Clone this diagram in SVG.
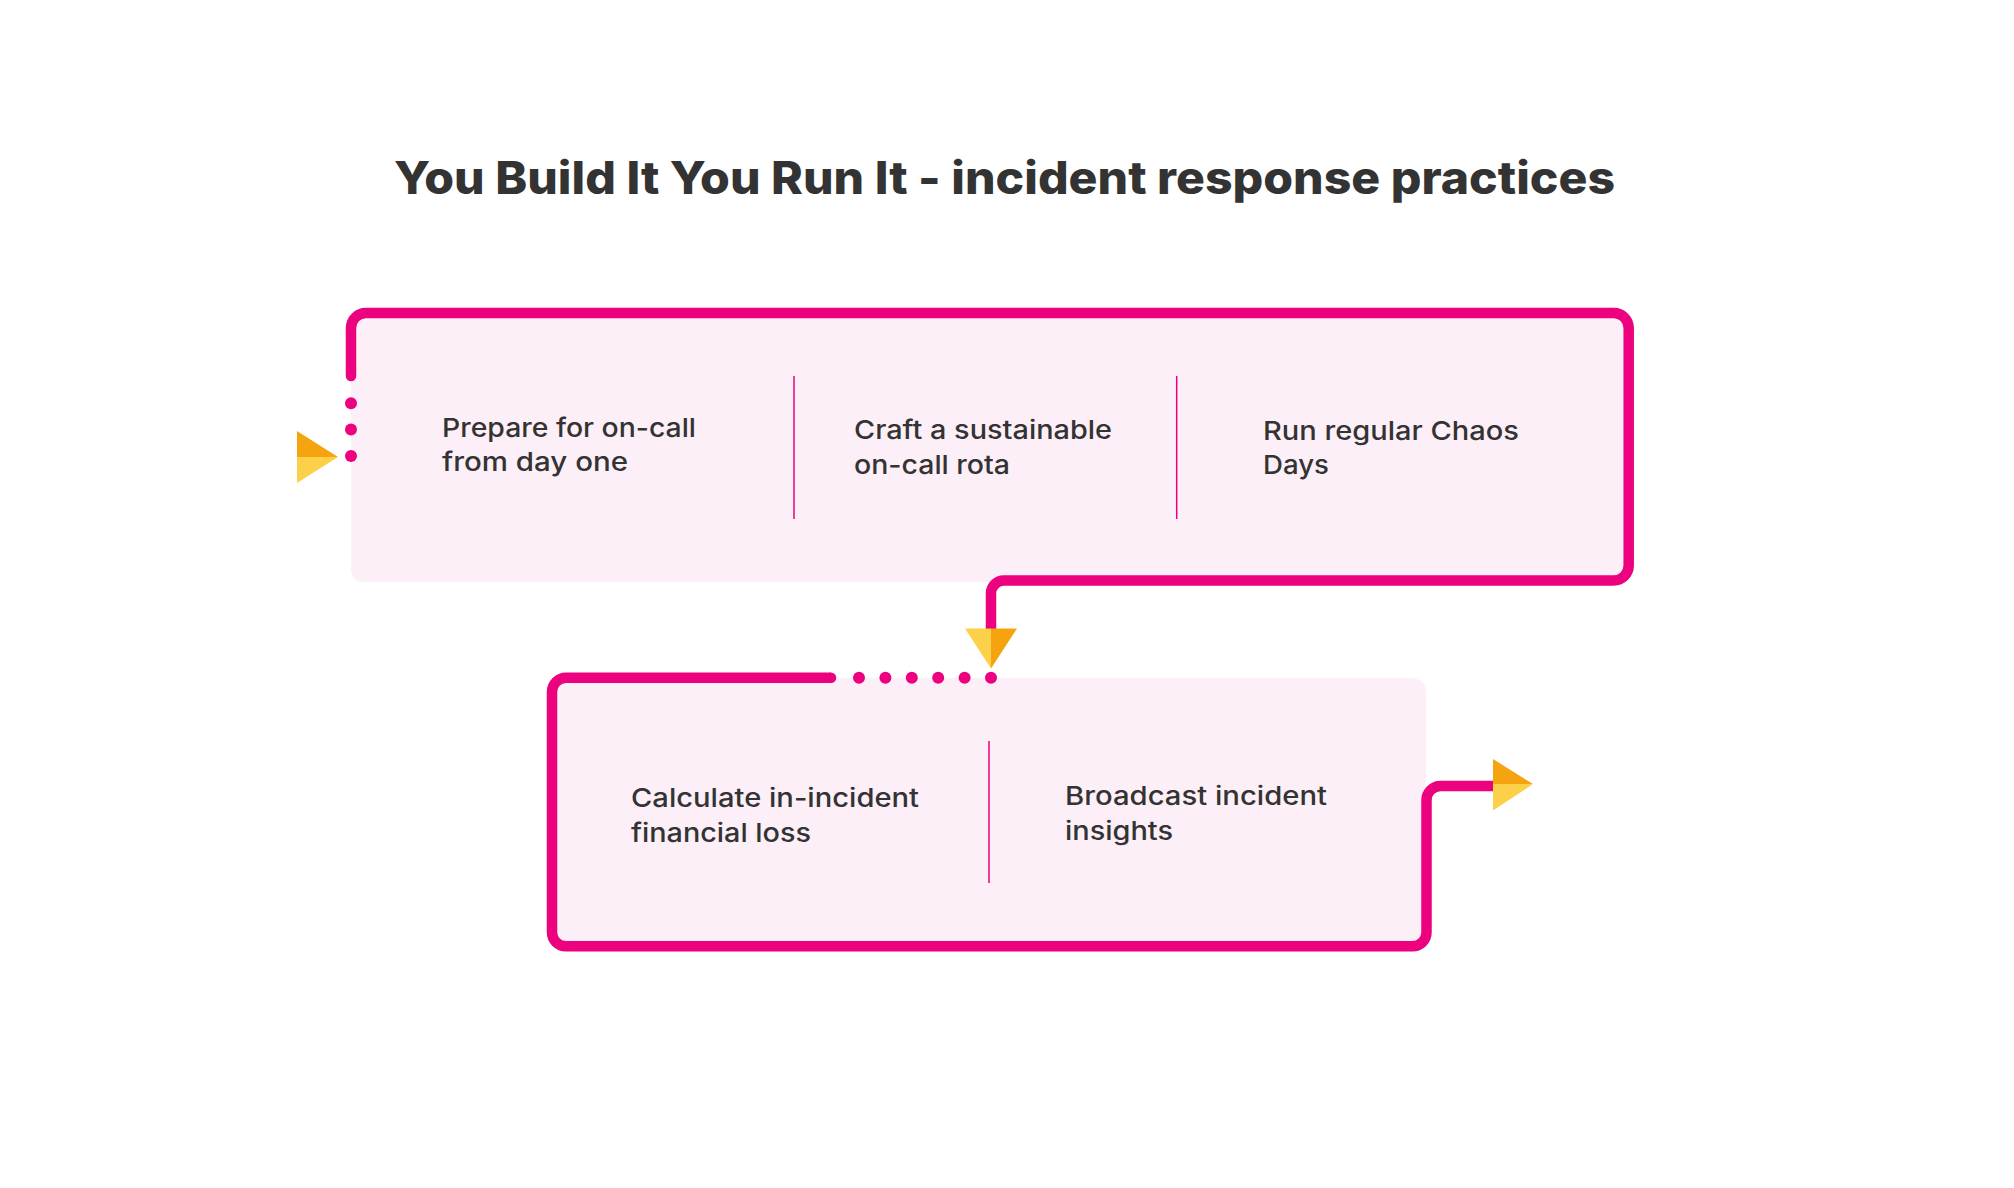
<svg xmlns="http://www.w3.org/2000/svg" width="2014" height="1188" viewBox="0 0 2014 1188">
  <style>
    .title { font-family: Inter, "Liberation Sans", sans-serif; font-weight: 800; font-size: 45px; fill: #333333; }
    .label { font-family: Inter, "Liberation Sans", sans-serif; font-weight: 500; font-size: 26px; fill: #333333; }
    .panel { fill: #FDEFF7; }
    .track { fill: none; stroke: #EC017F; stroke-width: 10.5; stroke-linejoin: round; }
    .divider { stroke: #EC017F; stroke-width: 1.5; }
    .dot { fill: #EC017F; }
    .dark { fill: #F5A30E; }
    .light { fill: #FDD049; }
  </style>

  <rect width="2014" height="1188" fill="#FFFFFF"/>

  <text class="title" x="1004.5" y="194" text-anchor="middle" textLength="1221" lengthAdjust="spacingAndGlyphs">You Build It You Run It - incident response practices</text>

  <!-- Row 1 panel -->
  <g id="row1">
    <rect class="panel" x="351" y="313" width="1278" height="269" rx="12"/>
    <line class="divider" x1="794" y1="376" x2="794" y2="519"/>
    <line class="divider" x1="1176.7" y1="376" x2="1176.7" y2="519"/>
  </g>

  <!-- Row 2 panel -->
  <g id="row2">
    <rect class="panel" x="552" y="678" width="874" height="268" rx="14"/>
    <line class="divider" x1="989" y1="741" x2="989" y2="883"/>
  </g>

  <g id="prepare-on-call">
    <text class="label" x="442" y="437" textLength="254" lengthAdjust="spacingAndGlyphs">Prepare for on-call</text>
    <text class="label" x="442" y="471" textLength="186" lengthAdjust="spacingAndGlyphs">from day one</text>
  </g>
  <g id="sustainable-rota">
    <text class="label" x="854" y="439" textLength="258" lengthAdjust="spacingAndGlyphs">Craft a sustainable</text>
    <text class="label" x="854" y="474" textLength="156" lengthAdjust="spacingAndGlyphs">on-call rota</text>
  </g>
  <g id="chaos-days">
    <text class="label" x="1263" y="440" textLength="256" lengthAdjust="spacingAndGlyphs">Run regular Chaos</text>
    <text class="label" x="1263" y="474" textLength="66" lengthAdjust="spacingAndGlyphs">Days</text>
  </g>
  <g id="financial-loss">
    <text class="label" x="631" y="807" textLength="288" lengthAdjust="spacingAndGlyphs">Calculate in-incident</text>
    <text class="label" x="631" y="842" textLength="180" lengthAdjust="spacingAndGlyphs">financial loss</text>
  </g>
  <g id="broadcast-insights">
    <text class="label" x="1065" y="805" textLength="262" lengthAdjust="spacingAndGlyphs">Broadcast incident</text>
    <text class="label" x="1065" y="840" textLength="108" lengthAdjust="spacingAndGlyphs">insights</text>
  </g>

  <!-- Connectors: the magenta track that wraps both rows -->
  <g id="connectors">
    <path class="track" stroke-linecap="round" d="M351 376 V328 A15 15 0 0 1 366 313 H1613.7 A15 15 0 0 1 1628.7 328 V565.5 A15 15 0 0 1 1613.7 580.5 H1004 A13 13 0 0 0 991 593.5 V630"/>
    <path class="track" d="M831 677.8 H566 A14 14 0 0 0 552 691.8 V932.3 A14 14 0 0 0 566 946.3 H1412.5 A14 14 0 0 0 1426.5 932.3 V800 A14 14 0 0 1 1440.5 786 H1494"/>
    <circle cx="831" cy="677.8" r="5.25" class="dot"/>

    <!-- dotted lead-in on the left -->
    <circle class="dot" cx="351" cy="403.3" r="6"/>
    <circle class="dot" cx="351" cy="429.5" r="6"/>
    <circle class="dot" cx="351" cy="456" r="6"/>

    <!-- dotted hand-off into row 2 -->
    <circle class="dot" cx="859" cy="677.8" r="6"/>
    <circle class="dot" cx="885.4" cy="677.8" r="6"/>
    <circle class="dot" cx="911.8" cy="677.8" r="6"/>
    <circle class="dot" cx="938.2" cy="677.8" r="6"/>
    <circle class="dot" cx="964.6" cy="677.8" r="6"/>
    <circle class="dot" cx="991" cy="677.8" r="6"/>

    <!-- entry arrow -->
    <polygon class="dark" points="297,431 338,457 297,457"/>
    <polygon class="light" points="297,457 338,457 297,483"/>

    <!-- down arrow between rows -->
    <polygon class="light" points="965,628.5 991,628.5 991,668.5"/>
    <polygon class="dark" points="991,628.5 1017,628.5 991,668.5"/>

    <!-- exit arrow -->
    <polygon class="dark" points="1493,759 1533,784 1493,784"/>
    <polygon class="light" points="1493,784 1533,784 1493,810.5"/>
  </g>
</svg>
